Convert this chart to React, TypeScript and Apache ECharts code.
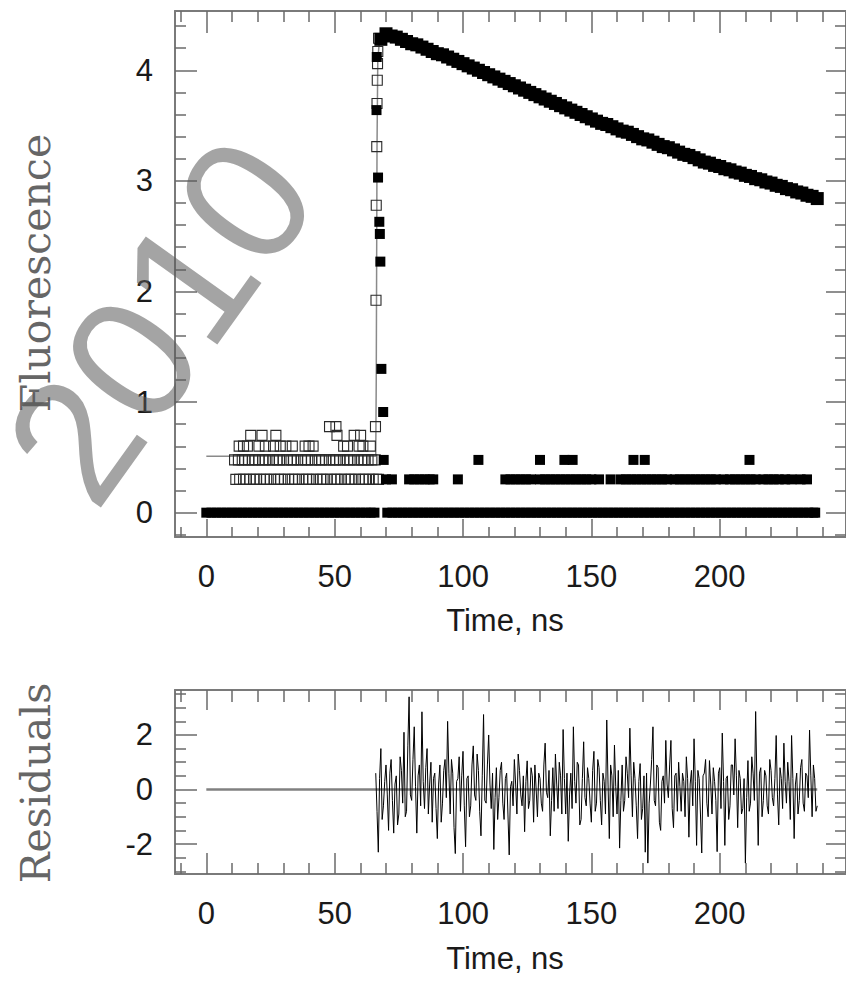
import React, { useEffect, useRef } from 'react';
import * as echarts from 'echarts';

// ---------- ticks ----------
const xMajorTicks = [0, 50, 100, 150, 200];
const xMinorTicks = [-10, 10, 20, 30, 40, 60, 70, 80, 90, 110, 120, 130, 140, 160, 170, 180, 190, 210, 220, 230, 240];
const fluoMajorTicks = [0, 1, 2, 3, 4];
const fluoMinorTicks = [-0.2, 0.2, 0.4, 0.6, 0.8, 1.2, 1.4, 1.6, 1.8, 2.2, 2.4, 2.6, 2.8, 3.2, 3.4, 3.6, 3.8, 4.2, 4.4];
const resMajorTicks = [-2, 0, 2];
const resMinorTicks = [-3, -2.5, -1.5, -1, -0.5, 0.5, 1, 1.5, 2.5, 3, 3.5];

// ---------- fluorescence decay (filled squares) ----------
const decayStart = 68;
const decayStep = 2;
const decayValues = [
  4.28, 4.33, 4.31, 4.30, 4.28, 4.26, 4.24, 4.23, 4.21, 4.19, 4.17, 4.15, 4.14, 4.12, 4.10, 4.08,
  4.06, 4.04, 4.02, 4.00, 3.98, 3.96, 3.94, 3.92, 3.90, 3.88, 3.86, 3.84, 3.82, 3.80, 3.78, 3.76,
  3.74, 3.72, 3.70, 3.68, 3.66, 3.64, 3.62, 3.60, 3.58, 3.56, 3.54, 3.52, 3.51, 3.49, 3.47, 3.45,
  3.44, 3.42, 3.40, 3.38, 3.37, 3.35, 3.33, 3.31, 3.30, 3.28, 3.26, 3.24, 3.23, 3.21, 3.19, 3.17,
  3.16, 3.14, 3.13, 3.11, 3.10, 3.08, 3.07, 3.05, 3.04, 3.02, 3.01, 2.99, 2.98, 2.96, 2.95, 2.93,
  2.92, 2.90, 2.89, 2.87, 2.86, 2.84,
];
const decayEdge: [number, number][] = [
  [66.3, 3.64], [66.4, 4.12], [66.9, 3.03], [67.4, 2.63], [67.6, 2.52], [67.8, 2.27], [68.2, 1.3], [68.9, 0.91],
];
const decayZeroTimes = [
  0, 2, 4, 6, 8, 10, 12, 14, 16, 18, 20, 22, 24, 26, 28, 30, 32, 34, 36, 38, 40, 42, 44, 46, 48, 50, 52, 54, 56, 58, 60, 62, 64, 65.5,
  70.5, 72.5, 74.5, 76.5, 78.5, 80.5, 82.5, 84.5, 86.5, 88.5, 90.5, 92.5, 94.5, 96.5, 98.5, 100.5, 102.5, 104.5, 106.5, 108.5,
  110.5, 112.5, 114.5, 116.5, 118.5, 120.5, 122.5, 124.5, 126.5, 128.5, 130.5, 132.5, 134.5, 136.5, 138.5, 140.5, 142.5, 144.5,
  146.5, 148.5, 150.5, 152.5, 154.5, 156.5, 158.5, 160.5, 162.5, 164.5, 166.5, 168.5, 170.5, 172.5, 174.5, 176.5, 178.5, 180.5,
  182.5, 184.5, 186.5, 188.5, 190.5, 192.5, 194.5, 196.5, 198.5, 200.5, 202.5, 204.5, 206.5, 208.5, 210.5, 212.5, 214.5, 216.5,
  218.5, 220.5, 222.5, 224.5, 226.5, 228.5, 230.5, 232.5, 234.5, 236.5, 237.2,
];
const decayTwoTimes = [
  70, 72.3, 79, 81, 83, 85, 87, 88.4, 98, 116.5, 118.5, 120.5, 122.5, 124.5, 126.5, 130, 132, 134, 136, 138, 140, 142, 144,
  146, 148, 150, 153, 157.5, 161.5, 163.5, 165.5, 167.5, 169.5, 171.5, 173.5, 175.5, 177.5, 179.5, 182.5, 184.5, 186.5, 188.5,
  190.5, 192.5, 194.5, 196.5, 198.5, 201.5, 204, 206, 208, 210, 212, 214, 217, 219, 221, 223, 225.5, 228, 231.5, 234,
];
const decayThreeTimes = [69.1, 106, 130, 139.5, 142.7, 166.4, 170.8, 211.6];
const level1 = 0, level2 = 0.301, level3 = 0.477, level4 = 0.602, level5 = 0.699, level6 = 0.778;

// ---------- lamp (open squares) ----------
const lampSixTimes = [48.0, 50.5, 65.9];
const lampFiveTimes = [17.3, 21.7, 27.1, 50.9, 57.6, 60.1];
const lampFourTimes = [12.8, 14.5, 16.0, 20.5, 23.0, 26.2, 28.8, 31.0, 33.5, 38.5, 40.0, 41.6, 53.5, 55.0, 59.5, 61.0, 63.9];
const lampThreeTimes = [
  11, 12.5, 14, 15, 16.5, 18, 19, 20.5, 22, 23, 24.5, 26, 27.5, 28.5, 30, 31.5, 33, 34, 35.5, 37, 38.5, 39.5, 41,
  42.5, 44, 45, 46.5, 48, 49.5, 50.5, 52, 53.5, 55, 56, 57.5, 59, 60.5, 61.5, 63, 64.5, 65.8,
];
const lampTwoTimes = [
  11.5, 13, 14.5, 15.5, 17, 18.5, 19.5, 21, 22.5, 23.5, 25, 26.5, 28, 29, 30.5, 32, 33.5, 34.5, 36, 37.5, 39, 40,
  41.5, 43, 44.5, 45.5, 47, 48.5, 50, 51, 52.5, 54, 55.5, 56.5, 58, 59.5, 61, 62, 63.5, 65, 66.3, 67.1,
];
const lampRise: [number, number][] = [
  [66.1, 1.92], [66.2, 2.78], [66.4, 3.31], [66.5, 3.70], [66.6, 3.91], [66.7, 4.06], [66.8, 4.17], [67.1, 4.29],
];

// ---------- fit curve ----------
const fitCurve: [number, number][] = [
  [0, 0.51], [66.0, 0.51], [66.2, 1.2], [66.5, 3.3], [66.8, 4.1], [67.5, 4.28], [70, 4.32],
  [100, 4.05], [150, 3.56], [200, 3.13], [238, 2.84],
];

// ---------- residuals (sampled every 0.5 ns from 66 ns) ----------
const resStart = 66;
const resStep = 0.5;
const residualValues = [
  0.6, -0.8, -2.3, 0.4, 1.5, -1.1, -0.6, 0.3, 0.9, -0.2, -1.5, 0.6, 1.1, -0.4, -1.6, 0.2, 0.5, -1.3, -0.9, 1.2,
  0.7, -0.5, 2.1, -1.0, -0.8, 1.6, 3.4, -0.2, -0.4, 1.1, 2.3, 0.1, -1.6, 0.5, 0.9, -0.6, 2.85, 0.3, -0.7, 0.8,
  1.5, -0.9, 0.2, 1.0, -1.2, 0.4, 0.6, -0.7, -1.8, 0.2, 0.9, -1.2, -0.5, 0.7, 1.1, -0.3, 2.5, 0.6, -0.9, 1.1,
  0.6, -1.4, -2.35, 0.3, 0.4, 1.2, -0.8, 0.5, 1.4, -0.6, -2.1, 0.4, 0.5, -1.0, -0.6, 0.9, 1.6, -0.2, -0.4, 1.3,
  0.7, -0.8, -1.7, 0.5, 2.75, -0.4, -0.5, 0.9, 2.0, 0.2, -0.7, 0.6, -2.2, -0.3, 0.8, -1.1, -0.3, 0.7, 1.0, -0.5,
  -1.1, 0.4, 0.6, -0.9, -2.4, 0.1, 0.3, -0.6, 1.1, 0.2, -0.9, 1.3, 0.7, -0.2, -0.6, 0.5, -1.55, 0.3, 1.05, -0.7,
  -0.4, 0.8, 0.5, -1.2, 0.9, 0.0, -1.0, 0.6, 0.4, -0.5, -0.8, 0.9, 1.7, -0.1, -0.3, 0.7, -1.7, -0.4, 0.8, -0.8,
  1.3, 0.2, -0.7, 1.0, 0.5, -0.9, 2.2, 0.4, -0.9, 0.6, -1.9, -0.2, 0.6, -0.7, 2.3, 0.3, -0.5, 1.0, 0.9, -1.3,
  -1.1, 0.4, 1.75, -0.3, -0.6, 0.8, 0.4, -0.5, -1.2, 0.7, 1.4, -0.8, -0.5, 1.1, 0.8, -0.4, -1.3, 0.6, 0.3, -0.9,
  2.55, 0.2, -1.8, 0.9, 0.5, -1.0, 1.63, 0.1, -0.9, 0.7, -2.15, -0.4, 0.9, -0.8, -0.4, 1.2, 0.6, -0.3, 2.25, 0.5,
  -1.0, 1.0, 0.4, -0.6, -1.8, 0.3, 0.95, -1.1, -0.7, 0.5, -2.3, 0.6, -2.7, -0.5, 0.2, 1.1, 2.3, -0.4, -0.6, 0.9,
  0.8, -1.2, -1.5, 0.3, 0.5, -0.5, 1.8, 0.2, -0.3, 0.9, 1.8, -0.7, -1.4, 0.5, 0.6, -0.8, 1.0, 0.1, -0.8, 0.6,
  0.3, -1.0, 1.2, 0.4, -1.75, 0.2, 0.7, -0.6, 1.86, 0.3, -2.05, 0.7, 0.4, -0.9, -2.33, 0.5, 0.6, 1.1, -0.5, -1.0,
  1.06, 0.2, -0.9, 0.8, 0.3, -0.4, -2.28, 0.6, 0.8, -0.7, 2.07, 0.3, -2.05, 0.4, 0.5, -1.1, -0.6, 0.9, 0.9, -0.2,
  1.86, 0.5, -1.4, 0.7, 0.4, -0.9, -0.7, 0.4, -2.7, -0.3, 1.06, -0.8, -0.5, 1.2, 0.6, -0.4, 2.86, 0.2, -2.05, 0.6,
  0.8, -1.0, -0.4, 0.7, 0.5, -0.6, -0.9, 1.1, 0.7, -0.3, -0.6, 0.4, 1.98, -0.2, -1.3, 0.8, 0.4, -0.7, 1.7, 0.3,
  -0.5, 1.0, 0.3, -1.1, 1.98, 0.4, -1.8, 0.2, 0.6, -0.9, -0.4, 0.8, 1.1, -0.5, -0.8, 0.6, 0.5, -0.3, 2.18, 0.5,
  -1.0, 0.9, 0.4, -0.8, -0.6,
];
const residualZero: [number, number][] = [[0, 0], [238, 0]];

// ---------- layout constants ----------
const W = 846;
const H = 982;
const X_MIN = -12.2;
const X_MAX = 249.2;
const AXIS_COLOR = '#7a7a7a';
const TICK_COLOR = '#6a6a6a';
const LABEL_FONT = 'Liberation Sans';

function xAxisDef(grid: number, position: string, ticks: number[], len: number, line: boolean, label: boolean) {
  return {
    type: 'value', gridIndex: grid, position, min: X_MIN, max: X_MAX,
    axisLine: { show: line, onZero: false, lineStyle: { color: AXIS_COLOR, width: 2 } },
    axisTick: { show: true, inside: true, length: len, customValues: ticks, lineStyle: { color: TICK_COLOR, width: 1.5 } },
    axisLabel: label
      ? { show: true, customValues: ticks, margin: 24, fontSize: 31, fontFamily: LABEL_FONT, color: '#1a1a1a' }
      : { show: false },
    splitLine: { show: false },
  };
}
function yAxisDef(grid: number, position: string, min: number, max: number, ticks: number[], len: number, line: boolean, label: boolean) {
  return {
    type: 'value', gridIndex: grid, position, min, max,
    axisLine: { show: line, onZero: false, lineStyle: { color: AXIS_COLOR, width: 2 } },
    axisTick: { show: true, inside: true, length: len, customValues: ticks, lineStyle: { color: TICK_COLOR, width: 1.5 } },
    axisLabel: label
      ? { show: true, customValues: ticks, margin: 22, fontSize: 31, fontFamily: LABEL_FONT, color: '#1a1a1a', padding: [12, 0, 0, 0] }
      : { show: false },
    splitLine: { show: false },
  };
}

const levelPoints = (times: number[], v: number) => times.map((t) => [t, v]);

export default function App() {
  const ref = useRef<HTMLDivElement>(null);
  useEffect(() => {
    const chart = echarts.init(ref.current!, null, { renderer: 'svg' });
    const decayData = decayValues.map((v, i) => [decayStart + i * decayStep, v]);
    const residualData = residualValues.map((v, i) => [resStart + i * resStep, v]);
    const openStyle = { color: 'rgba(0,0,0,0)', borderColor: '#2a2a2a', borderWidth: 1.1, opacity: 1 };
    const option: any = {
      animation: false,
      backgroundColor: '#fff',
      grid: [
        { left: 175, top: 11, width: 681, height: 526 },
        { left: 175, top: 690, width: 681, height: 184 },
      ],
      xAxis: [
        xAxisDef(0, 'bottom', xMajorTicks, 18, true, true),
        xAxisDef(0, 'bottom', xMinorTicks, 10, false, false),
        xAxisDef(0, 'top', xMajorTicks, 22, true, false),
        xAxisDef(0, 'top', xMinorTicks, 11, false, false),
        xAxisDef(1, 'bottom', xMajorTicks, 21, true, true),
        xAxisDef(1, 'bottom', xMinorTicks, 11, false, false),
        xAxisDef(1, 'top', xMajorTicks, 20, true, false),
        xAxisDef(1, 'top', xMinorTicks, 12, false, false),
      ],
      yAxis: [
        yAxisDef(0, 'left', -0.22, 4.536, fluoMajorTicks, 22, true, true),
        yAxisDef(0, 'left', -0.22, 4.536, fluoMinorTicks, 11, false, false),
        yAxisDef(0, 'right', -0.22, 4.536, fluoMajorTicks, 20, true, false),
        yAxisDef(0, 'right', -0.22, 4.536, fluoMinorTicks, 11, false, false),
        yAxisDef(1, 'left', -3.1, 3.65, resMajorTicks, 22, true, true),
        yAxisDef(1, 'left', -3.1, 3.65, resMinorTicks, 11, false, false),
        yAxisDef(1, 'right', -3.1, 3.65, resMajorTicks, 20, true, false),
        yAxisDef(1, 'right', -3.1, 3.65, resMinorTicks, 11, false, false),
      ],
      series: [
        {
          type: 'line', xAxisIndex: 0, yAxisIndex: 0, data: fitCurve, showSymbol: false, z: 1,
          lineStyle: { color: '#8a8a8a', width: 1.5 },
        },
        {
          type: 'scatter', xAxisIndex: 0, yAxisIndex: 0, symbol: 'rect', symbolSize: 10, z: 3,
          itemStyle: openStyle,
          data: [
            ...levelPoints(lampTwoTimes, level2),
            ...levelPoints(lampThreeTimes, level3),
            ...levelPoints(lampFourTimes, level4),
            ...levelPoints(lampFiveTimes, level5),
            ...levelPoints(lampSixTimes, level6),
            ...lampRise,
          ],
        },
        {
          type: 'scatter', xAxisIndex: 0, yAxisIndex: 0, symbol: 'rect', symbolSize: 10, z: 4,
          itemStyle: { color: '#000', opacity: 1 },
          data: [
            ...levelPoints(decayZeroTimes, level1),
            ...levelPoints(decayTwoTimes, level2),
            ...levelPoints(decayThreeTimes, level3),
            ...decayEdge,
          ],
        },
        {
          type: 'scatter', xAxisIndex: 0, yAxisIndex: 0, symbol: 'rect', symbolSize: 13, z: 4,
          itemStyle: { color: '#000', opacity: 1 },
          data: decayData,
        },
        {
          type: 'line', xAxisIndex: 4, yAxisIndex: 4, data: residualZero, showSymbol: false, z: 1,
          lineStyle: { color: '#808080', width: 2.5 },
        },
        {
          type: 'line', xAxisIndex: 4, yAxisIndex: 4, data: residualData, showSymbol: false, z: 2,
          lineStyle: { color: '#000', width: 1 },
        },
      ],
      graphic: [
        {
          type: 'text', x: 36, y: 273, rotation: Math.PI / 2, silent: true,
          style: { text: 'Fluorescence', fontSize: 41, fontFamily: 'DejaVu Serif', fill: '#666', align: 'center', verticalAlign: 'middle' },
        },
        {
          type: 'text', x: 36, y: 783, rotation: Math.PI / 2, silent: true,
          style: { text: 'Residuals', fontSize: 41, fontFamily: 'DejaVu Serif', fill: '#666', align: 'center', verticalAlign: 'middle' },
        },
        {
          type: 'text', x: 505, y: 620, silent: true,
          style: { text: 'Time, ns', fontSize: 31, fontFamily: LABEL_FONT, fill: '#1a1a1a', align: 'center', verticalAlign: 'middle' },
        },
        {
          type: 'text', x: 505, y: 958, silent: true,
          style: { text: 'Time, ns', fontSize: 31, fontFamily: LABEL_FONT, fill: '#1a1a1a', align: 'center', verticalAlign: 'middle' },
        },
        {
          type: 'text', x: 160, y: 320, rotation: 0.95, silent: true, z: 100,
          style: { text: '2010', fontSize: 176, fontFamily: LABEL_FONT, fill: 'rgba(90,90,90,0.55)', align: 'center', verticalAlign: 'middle' },
        },
      ],
    };
    chart.setOption(option);
    return () => chart.dispose();
  }, []);
  return (
    <div
      ref={ref}
      style={{ position: 'absolute', left: 0, top: 0, width: W, height: H, background: '#fff' }}
    />
  );
}
